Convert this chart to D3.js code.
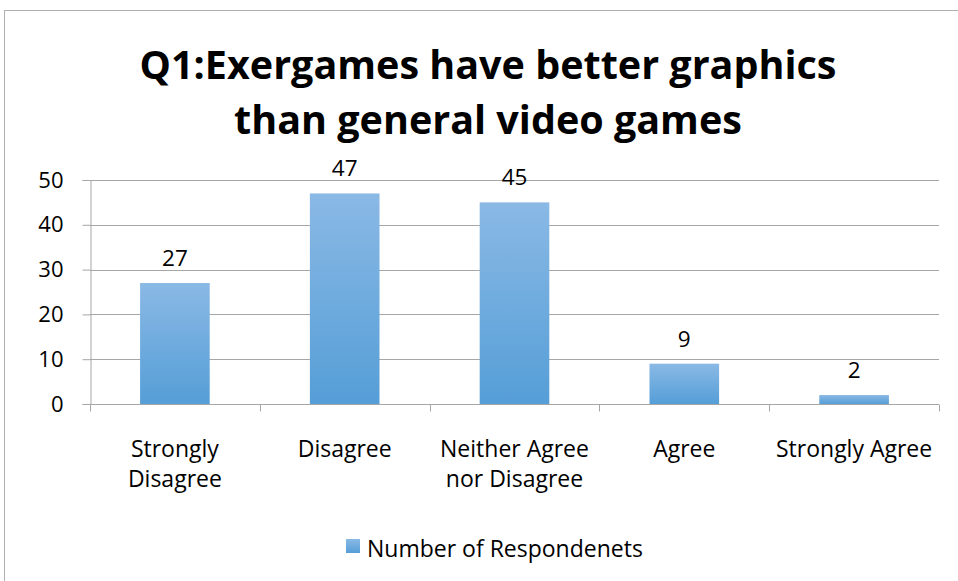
<!DOCTYPE html>
<html><head><meta charset="utf-8">
<script src="https://cdn.jsdelivr.net/npm/d3@7"></script>
<style>body{margin:0;background:#fff}svg{display:block}</style>
</head><body>
<script>
const categories = [["Strongly","Disagree"],["Disagree"],["Neither Agree","nor Disagree"],["Agree"],["Strongly Agree"]];
const values = [27, 47, 45, 9, 2];
const yTicks = [0, 10, 20, 30, 40, 50];
const seriesName = "Number of Respondenets";
const titleLines = ["Q1:Exergames have better graphics", "than general video games"];

const W = 958, H = 581;
const font = "'Open Sans', Lato, sans-serif";
const svg = d3.select("body").append("svg").attr("width", W).attr("height", H);

const defs = svg.append("defs");
const g = defs.append("linearGradient").attr("id","bg").attr("x1",0).attr("y1",0).attr("x2",0).attr("y2",1);
g.append("stop").attr("offset","0%").attr("stop-color","#8ab9e5");
g.append("stop").attr("offset","100%").attr("stop-color","#559ed7");

svg.append("rect").attr("x",4.5).attr("y",10.5).attr("width",W+10).attr("height",H+10)
  .attr("fill","#fff").attr("stroke","#b0b0b0").attr("stroke-width",1);

svg.append("g").selectAll("text").data(titleLines).join("text")
  .attr("x", 488).attr("y", (d,i)=>79 + i*55)
  .attr("text-anchor","middle").attr("font-family",font).attr("font-weight","bold")
  .attr("font-size",39.5).attr("fill","#000").text(d=>d);

const pLeft = 90, pRight = 939, pTop = 180, pBottom = 404;
const x = d3.scaleBand().domain(d3.range(categories.length)).range([pLeft, pRight]).paddingInner(0.59).paddingOuter(0.295);
const xb = d3.scaleBand().domain(d3.range(categories.length)).range([pLeft, pRight]);
const y = d3.scaleLinear().domain([0, 50]).range([pBottom, pTop]);

// gridlines
svg.append("g").selectAll("line").data(yTicks.filter(t=>t>0)).join("line")
  .attr("x1", pLeft).attr("x2", pRight).attr("y1", d=>Math.round(y(d))+0.5).attr("y2", d=>Math.round(y(d))+0.5)
  .attr("stroke","#a6a6a6").attr("stroke-width",1);

// y axis
const yAxis = svg.append("g").attr("transform",`translate(${pLeft+0.5},0)`)
  .call(d3.axisLeft(y).tickValues(yTicks).tickSize(8).tickPadding(19));
yAxis.select(".domain").attr("stroke","#a6a6a6");
yAxis.selectAll(".tick line").attr("stroke","#a6a6a6");
yAxis.selectAll("text").attr("font-family",font).attr("font-size",22).attr("fill","#000");

// bars
svg.append("g").selectAll("rect").data(values).join("rect")
  .attr("x",(d,i)=>x(i)).attr("width",x.bandwidth())
  .attr("y",d=>y(d)).attr("height",d=>pBottom - y(d))
  .attr("fill","url(#bg)");

// x axis
const xAxisG = svg.append("g").attr("transform",`translate(0,${pBottom+0.5})`);
xAxisG.append("line").attr("x1",pLeft).attr("x2",pRight).attr("stroke","#a6a6a6");
xAxisG.selectAll("line.t").data(d3.range(categories.length+1)).join("line").attr("class","t")
  .attr("x1",i=>Math.round(pLeft + i*xb.bandwidth())+0.5).attr("x2",i=>Math.round(pLeft + i*xb.bandwidth())+0.5)
  .attr("y1",0).attr("y2",7).attr("stroke","#a6a6a6");

// category labels
svg.append("g").selectAll("text").data(categories).join("text")
  .attr("text-anchor","middle").attr("font-family",font).attr("font-size",23).attr("fill","#000")
  .each(function(d,i){
    const t = d3.select(this);
    d.forEach((line,j)=>t.append("tspan").attr("x", xb(i)+xb.bandwidth()/2).attr("y", 457 + j*30).text(line));
  });

// value labels
svg.append("g").selectAll("text").data(values).join("text")
  .attr("x",(d,i)=>x(i)+x.bandwidth()/2).attr("y",d=>y(d)-17)
  .attr("text-anchor","middle").attr("font-family",font).attr("font-size",22.5).attr("fill","#000")
  .text(d=>d);

// legend
const lg = svg.append("g");
lg.append("rect").attr("x",346).attr("y",539).attr("width",14).attr("height",14).attr("fill","url(#bg)");
lg.append("text").attr("x",367).attr("y",557).attr("font-family",font).attr("font-size",23).attr("fill","#000").text(seriesName);
</script>
</body></html>
